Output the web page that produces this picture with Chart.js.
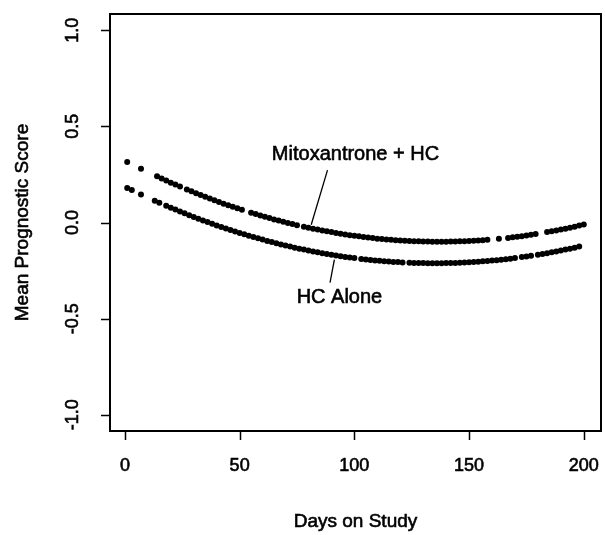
<!DOCTYPE html>
<html>
<head>
<meta charset="utf-8">
<script src="https://cdn.jsdelivr.net/npm/chart.js@4"></script>
<style>
  html, body { margin: 0; padding: 0; background: #fff; }
  #wrap { width: 605px; height: 535px; }
</style>
</head>
<body>
<div id="wrap"><canvas id="chart" width="605" height="535"></canvas></div>
<script>
// Mitoxantrone + HC
const mitoDays = [1, 7, 14, 16, 18, 20, 22, 24, 27, 29, 31, 33, 35, 37, 39, 41, 43, 45, 47, 49, 51,
  55, 57, 59, 61, 63, 65, 67, 69, 71, 73, 75, 78, 80, 82, 84, 86, 88, 90, 92, 94, 96, 98, 100,
  102, 104, 106, 108, 110, 112, 114, 116, 118, 120, 122, 124, 126, 128, 130, 132, 134, 136, 138,
  140, 142, 144, 146, 148, 150, 152, 154, 156, 158, 163, 167, 169, 171, 173, 175, 177, 179,
  184, 186, 188, 190, 192, 194, 196, 198, 200];
const mitoScore = [0.315, 0.280, 0.240, 0.229, 0.218, 0.207, 0.197, 0.187, 0.172, 0.162, 0.152, 0.143, 0.134, 0.125, 0.116, 0.107, 0.098, 0.090, 0.082, 0.074, 0.066,
  0.051, 0.044, 0.037, 0.030, 0.023, 0.016, 0.010, 0.004, -0.002, -0.008, -0.014, -0.022, -0.027, -0.032, -0.037, -0.042, -0.046, -0.050, -0.055, -0.058, -0.062, -0.066, -0.069,
  -0.072, -0.076, -0.078, -0.081, -0.084, -0.086, -0.088, -0.090, -0.092, -0.093, -0.095, -0.096, -0.097, -0.098, -0.099, -0.099, -0.100, -0.100, -0.100,
  -0.100, -0.099, -0.099, -0.098, -0.097, -0.096, -0.095, -0.093, -0.092, -0.090, -0.085, -0.080, -0.077, -0.074, -0.071, -0.068, -0.064, -0.060,
  -0.050, -0.046, -0.042, -0.037, -0.032, -0.027, -0.022, -0.016, -0.011];

// HC alone
const hcDays = [1, 3, 7, 13, 15, 18, 20, 22, 24, 26, 28, 30, 32, 34, 36, 38, 40, 42, 44, 46, 48, 50,
  52, 54, 56, 58, 60, 62, 64, 66, 68, 70, 72, 74, 76, 78, 80, 82, 84, 86, 88, 90, 92, 94, 96, 98, 100,
  103, 105, 107, 109, 111, 113, 115, 117, 119, 121, 124, 126, 128, 130, 132, 134, 136, 138, 140,
  142, 144, 146, 148, 150, 152, 154, 156, 158, 160, 162, 164, 166, 168, 170, 173, 175, 177,
  180, 182, 184, 186, 188, 190, 192, 194, 196, 198];
const hcScore = [0.180, 0.169, 0.146, 0.113, 0.103, 0.087, 0.077, 0.067, 0.057, 0.048, 0.038, 0.029, 0.020, 0.011, 0.002, -0.006, -0.015, -0.023, -0.031, -0.039, -0.047, -0.054,
  -0.061, -0.069, -0.076, -0.082, -0.089, -0.096, -0.102, -0.108, -0.114, -0.120, -0.125, -0.131, -0.136, -0.141, -0.146, -0.151, -0.155, -0.160, -0.164, -0.168, -0.172, -0.175, -0.179, -0.182, -0.185,
  -0.190, -0.192, -0.195, -0.197, -0.199, -0.201, -0.203, -0.205, -0.206, -0.208, -0.209, -0.210, -0.211, -0.211, -0.212, -0.212, -0.212, -0.212, -0.211,
  -0.211, -0.210, -0.209, -0.208, -0.207, -0.206, -0.204, -0.202, -0.200, -0.198, -0.196, -0.194, -0.191, -0.188, -0.185, -0.180, -0.177, -0.173,
  -0.168, -0.164, -0.160, -0.155, -0.151, -0.146, -0.141, -0.136, -0.131, -0.125];

const xTicks = [0, 50, 100, 150, 200];
const yTicks = [1.0, 0.5, 0.0, -0.5, -1.0];
const yTickLabels = ["1.0", "0.5", "0.0", "-0.5", "-1.0"];

// annotation anchors, in data units
const mitoLabel = { text: "Mitoxantrone + HC", x: 100.5, y: 0.352, from: [88.3, 0.272], to: [81.2, -0.012] };
const hcLabel = { text: "HC Alone", x: 93.5, y: -0.388, from: [91.3, -0.193], to: [89.4, -0.312] };

const FONT = '"Liberation Sans", Arial, sans-serif';

const toPoints = (days, vals) => days.map((d, i) => ({ x: d, y: vals[i] }));

// scanned text looks heavier than plain Arial, so add a thin outline
const heavyText = (ctx, str, x, y) => {
  ctx.fillText(str, x, y);
  ctx.strokeText(str, x, y);
};

const framePlugin = {
  id: "frame",
  afterDraw(chart) {
    const ctx = chart.ctx;
    const area = chart.chartArea;
    const xs = chart.scales.x;
    const ys = chart.scales.y;
    ctx.save();
    ctx.strokeStyle = "#000";
    ctx.fillStyle = "#000";

    // box
    ctx.lineWidth = 2;
    ctx.strokeRect(area.left, area.top, area.right - area.left, area.bottom - area.top);

    // ticks
    ctx.lineWidth = 1.5;
    ctx.beginPath();
    xTicks.forEach(t => {
      const px = Math.round(xs.getPixelForValue(t)) + 0.5;
      ctx.moveTo(px, area.bottom);
      ctx.lineTo(px, area.bottom + 9);
    });
    yTicks.forEach(t => {
      const py = Math.round(ys.getPixelForValue(t)) + 0.5;
      ctx.moveTo(area.left, py);
      ctx.lineTo(area.left - 9, py);
    });
    ctx.stroke();

    // tick labels
    ctx.lineWidth = 0.6;
    ctx.font = "18px " + FONT;
    ctx.textAlign = "center";
    ctx.textBaseline = "middle";
    xTicks.forEach(t => {
      heavyText(ctx, String(t), xs.getPixelForValue(t), area.bottom + 35);
    });
    yTicks.forEach((t, i) => {
      ctx.save();
      ctx.translate(area.left - 37, ys.getPixelForValue(t));
      ctx.rotate(-Math.PI / 2);
      heavyText(ctx, yTickLabels[i], 0, 0);
      ctx.restore();
    });

    // axis titles
    ctx.font = "19px " + FONT;
    heavyText(ctx, "Days on Study", (area.left + area.right) / 2, 522);
    ctx.save();
    ctx.translate(23, (area.top + area.bottom) / 2);
    ctx.rotate(-Math.PI / 2);
    heavyText(ctx, "Mean Prognostic Score", 0, 0);
    ctx.restore();

    // curve labels with leader lines
    [mitoLabel, hcLabel].forEach(lab => {
      ctx.font = "20px " + FONT;
      ctx.lineWidth = 0.6;
      heavyText(ctx, lab.text, xs.getPixelForValue(lab.x), ys.getPixelForValue(lab.y));
      ctx.lineWidth = 1.3;
      ctx.beginPath();
      ctx.moveTo(xs.getPixelForValue(lab.from[0]), ys.getPixelForValue(lab.from[1]));
      ctx.lineTo(xs.getPixelForValue(lab.to[0]), ys.getPixelForValue(lab.to[1]));
      ctx.stroke();
    });
    ctx.restore();
  }
};

new Chart(document.getElementById("chart").getContext("2d"), {
  type: "scatter",
  data: {
    datasets: [
      {
        label: "Mitoxantrone + HC",
        data: toPoints(mitoDays, mitoScore),
        backgroundColor: "#000",
        borderWidth: 0,
        pointRadius: 3,
      },
      {
        label: "HC Alone",
        data: toPoints(hcDays, hcScore),
        backgroundColor: "#000",
        borderWidth: 0,
        pointRadius: 3,
      },
    ],
  },
  options: {
    responsive: false,
    animation: false,
    layout: { padding: { left: 110, right: 3, top: 14, bottom: 104 } },
    plugins: {
      legend: { display: false },
      tooltip: { enabled: false },
    },
    scales: {
      x: { type: "linear", display: false, min: -6.5, max: 207.5 },
      y: { type: "linear", display: false, min: -1.084, max: 1.084 },
    },
  },
  plugins: [framePlugin],
});
</script>
</body>
</html>
